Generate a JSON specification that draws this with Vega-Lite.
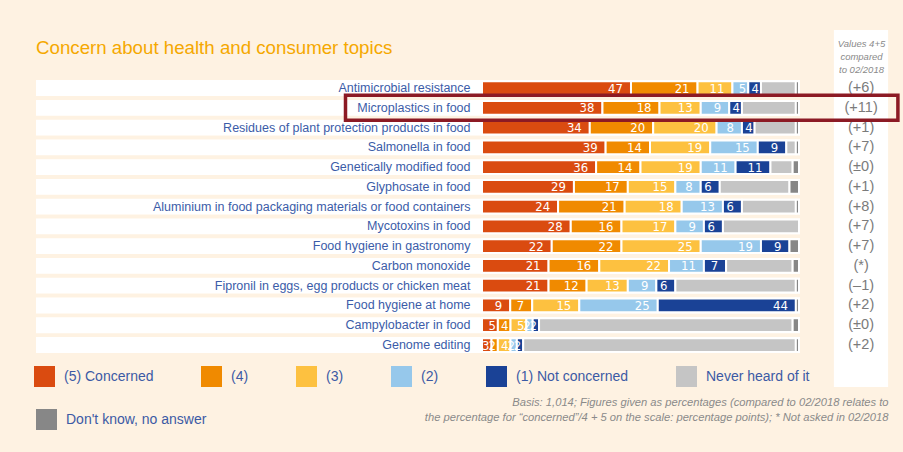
{
  "$schema": "https://vega.github.io/schema/vega-lite/v6.json",
  "width": 317,
  "height": 357,
  "autosize": {"type": "none"},
  "padding": {"left": 482, "top": 30, "right": 104, "bottom": 65},
  "background": "#FEF2E2",
  "config": {
    "view": {"stroke": null},
    "font": "Liberation Sans",
    "axisX": {"labels": false, "ticks": false, "domain": false, "grid": false, "titleFontSize": 11.2, "titleFontStyle": "italic", "titleFontWeight": "normal", "titleColor": "#8A8A8A", "titleLineHeight": 15, "titleFont": "Liberation Sans"},
    "axisY": {"domain": false, "ticks": false, "grid": false, "labelPadding": 12, "labelFontSize": 12.5, "labelColor": "#3B5CA8", "labelFont": "Liberation Sans", "labelLimit": 400, "titleFontSize": 9.5, "titleFontStyle": "italic", "titleFontWeight": "normal", "titleColor": "#8A8A8A", "titleLineHeight": 13, "titleFont": "Liberation Sans"}
  },
  "title": {
    "text": "Concern about health and consumer topics",
    "anchor": "start",
    "frame": "group",
    "dx": -446,
    "offset": 0,
    "baseline": "alphabetic",
    "dy": 42.5,
    "fontSize": 18.7,
    "fontWeight": "normal",
    "color": "#F5A800",
    "font": "Liberation Sans"
  },
  "datasets": {
    "rows": [
      {"topic": "Antimicrobial resistance", "change": "(+6)"},
      {"topic": "Microplastics in food", "change": "(+11)"},
      {"topic": "Residues of plant protection products in food", "change": "(+1)"},
      {"topic": "Salmonella in food", "change": "(+7)"},
      {"topic": "Genetically modified food", "change": "(±0)"},
      {"topic": "Glyphosate in food", "change": "(+1)"},
      {"topic": "Aluminium in food packaging materials or food containers", "change": "(+8)"},
      {"topic": "Mycotoxins in food", "change": "(+7)"},
      {"topic": "Food hygiene in gastronomy", "change": "(+7)"},
      {"topic": "Carbon monoxide", "change": "(*)"},
      {"topic": "Fipronil in eggs, egg products or chicken meat", "change": "(–1)"},
      {"topic": "Food hygiene at home", "change": "(+2)"},
      {"topic": "Campylobacter in food", "change": "(±0)"},
      {"topic": "Genome editing", "change": "(+2)"}
    ],
    "seg": [
      {"topic": "Antimicrobial resistance", "answer": "(5) Concerned", "value": 47},
      {"topic": "Antimicrobial resistance", "answer": "(4)", "value": 21},
      {"topic": "Antimicrobial resistance", "answer": "(3)", "value": 11},
      {"topic": "Antimicrobial resistance", "answer": "(2)", "value": 5},
      {"topic": "Antimicrobial resistance", "answer": "(1) Not concerned", "value": 4},
      {"topic": "Antimicrobial resistance", "answer": "Never heard of it", "value": 11},
      {"topic": "Antimicrobial resistance", "answer": "Don't know, no answer", "value": 1},
      {"topic": "Microplastics in food", "answer": "(5) Concerned", "value": 38},
      {"topic": "Microplastics in food", "answer": "(4)", "value": 18},
      {"topic": "Microplastics in food", "answer": "(3)", "value": 13},
      {"topic": "Microplastics in food", "answer": "(2)", "value": 9},
      {"topic": "Microplastics in food", "answer": "(1) Not concerned", "value": 4},
      {"topic": "Microplastics in food", "answer": "Never heard of it", "value": 17},
      {"topic": "Microplastics in food", "answer": "Don't know, no answer", "value": 1},
      {"topic": "Residues of plant protection products in food", "answer": "(5) Concerned", "value": 34},
      {"topic": "Residues of plant protection products in food", "answer": "(4)", "value": 20},
      {"topic": "Residues of plant protection products in food", "answer": "(3)", "value": 20},
      {"topic": "Residues of plant protection products in food", "answer": "(2)", "value": 8},
      {"topic": "Residues of plant protection products in food", "answer": "(1) Not concerned", "value": 4},
      {"topic": "Residues of plant protection products in food", "answer": "Never heard of it", "value": 13},
      {"topic": "Residues of plant protection products in food", "answer": "Don't know, no answer", "value": 1},
      {"topic": "Salmonella in food", "answer": "(5) Concerned", "value": 39},
      {"topic": "Salmonella in food", "answer": "(4)", "value": 14},
      {"topic": "Salmonella in food", "answer": "(3)", "value": 19},
      {"topic": "Salmonella in food", "answer": "(2)", "value": 15},
      {"topic": "Salmonella in food", "answer": "(1) Not concerned", "value": 9},
      {"topic": "Salmonella in food", "answer": "Never heard of it", "value": 3},
      {"topic": "Salmonella in food", "answer": "Don't know, no answer", "value": 1},
      {"topic": "Genetically modified food", "answer": "(5) Concerned", "value": 36},
      {"topic": "Genetically modified food", "answer": "(4)", "value": 14},
      {"topic": "Genetically modified food", "answer": "(3)", "value": 19},
      {"topic": "Genetically modified food", "answer": "(2)", "value": 11},
      {"topic": "Genetically modified food", "answer": "(1) Not concerned", "value": 11},
      {"topic": "Genetically modified food", "answer": "Never heard of it", "value": 7},
      {"topic": "Genetically modified food", "answer": "Don't know, no answer", "value": 2},
      {"topic": "Glyphosate in food", "answer": "(5) Concerned", "value": 29},
      {"topic": "Glyphosate in food", "answer": "(4)", "value": 17},
      {"topic": "Glyphosate in food", "answer": "(3)", "value": 15},
      {"topic": "Glyphosate in food", "answer": "(2)", "value": 8},
      {"topic": "Glyphosate in food", "answer": "(1) Not concerned", "value": 6},
      {"topic": "Glyphosate in food", "answer": "Never heard of it", "value": 22},
      {"topic": "Glyphosate in food", "answer": "Don't know, no answer", "value": 3},
      {"topic": "Aluminium in food packaging materials or food containers", "answer": "(5) Concerned", "value": 24},
      {"topic": "Aluminium in food packaging materials or food containers", "answer": "(4)", "value": 21},
      {"topic": "Aluminium in food packaging materials or food containers", "answer": "(3)", "value": 18},
      {"topic": "Aluminium in food packaging materials or food containers", "answer": "(2)", "value": 13},
      {"topic": "Aluminium in food packaging materials or food containers", "answer": "(1) Not concerned", "value": 6},
      {"topic": "Aluminium in food packaging materials or food containers", "answer": "Never heard of it", "value": 17},
      {"topic": "Aluminium in food packaging materials or food containers", "answer": "Don't know, no answer", "value": 1},
      {"topic": "Mycotoxins in food", "answer": "(5) Concerned", "value": 28},
      {"topic": "Mycotoxins in food", "answer": "(4)", "value": 16},
      {"topic": "Mycotoxins in food", "answer": "(3)", "value": 17},
      {"topic": "Mycotoxins in food", "answer": "(2)", "value": 9},
      {"topic": "Mycotoxins in food", "answer": "(1) Not concerned", "value": 6},
      {"topic": "Mycotoxins in food", "answer": "Never heard of it", "value": 24},
      {"topic": "Food hygiene in gastronomy", "answer": "(5) Concerned", "value": 22},
      {"topic": "Food hygiene in gastronomy", "answer": "(4)", "value": 22},
      {"topic": "Food hygiene in gastronomy", "answer": "(3)", "value": 25},
      {"topic": "Food hygiene in gastronomy", "answer": "(2)", "value": 19},
      {"topic": "Food hygiene in gastronomy", "answer": "(1) Not concerned", "value": 9},
      {"topic": "Food hygiene in gastronomy", "answer": "Don't know, no answer", "value": 3},
      {"topic": "Carbon monoxide", "answer": "(5) Concerned", "value": 21},
      {"topic": "Carbon monoxide", "answer": "(4)", "value": 16},
      {"topic": "Carbon monoxide", "answer": "(3)", "value": 22},
      {"topic": "Carbon monoxide", "answer": "(2)", "value": 11},
      {"topic": "Carbon monoxide", "answer": "(1) Not concerned", "value": 7},
      {"topic": "Carbon monoxide", "answer": "Never heard of it", "value": 21},
      {"topic": "Carbon monoxide", "answer": "Don't know, no answer", "value": 2},
      {"topic": "Fipronil in eggs, egg products or chicken meat", "answer": "(5) Concerned", "value": 21},
      {"topic": "Fipronil in eggs, egg products or chicken meat", "answer": "(4)", "value": 12},
      {"topic": "Fipronil in eggs, egg products or chicken meat", "answer": "(3)", "value": 13},
      {"topic": "Fipronil in eggs, egg products or chicken meat", "answer": "(2)", "value": 9},
      {"topic": "Fipronil in eggs, egg products or chicken meat", "answer": "(1) Not concerned", "value": 6},
      {"topic": "Fipronil in eggs, egg products or chicken meat", "answer": "Never heard of it", "value": 38},
      {"topic": "Fipronil in eggs, egg products or chicken meat", "answer": "Don't know, no answer", "value": 1},
      {"topic": "Food hygiene at home", "answer": "(5) Concerned", "value": 9},
      {"topic": "Food hygiene at home", "answer": "(4)", "value": 7},
      {"topic": "Food hygiene at home", "answer": "(3)", "value": 15},
      {"topic": "Food hygiene at home", "answer": "(2)", "value": 25},
      {"topic": "Food hygiene at home", "answer": "(1) Not concerned", "value": 44},
      {"topic": "Food hygiene at home", "answer": "Don't know, no answer", "value": 1},
      {"topic": "Campylobacter in food", "answer": "(5) Concerned", "value": 5},
      {"topic": "Campylobacter in food", "answer": "(4)", "value": 4},
      {"topic": "Campylobacter in food", "answer": "(3)", "value": 5},
      {"topic": "Campylobacter in food", "answer": "(2)", "value": 2},
      {"topic": "Campylobacter in food", "answer": "(1) Not concerned", "value": 2},
      {"topic": "Campylobacter in food", "answer": "Never heard of it", "value": 80},
      {"topic": "Campylobacter in food", "answer": "Don't know, no answer", "value": 2},
      {"topic": "Genome editing", "answer": "(5) Concerned", "value": 3},
      {"topic": "Genome editing", "answer": "(4)", "value": 2},
      {"topic": "Genome editing", "answer": "(3)", "value": 4},
      {"topic": "Genome editing", "answer": "(2)", "value": 2},
      {"topic": "Genome editing", "answer": "(1) Not concerned", "value": 2},
      {"topic": "Genome editing", "answer": "Never heard of it", "value": 86},
      {"topic": "Genome editing", "answer": "Don't know, no answer", "value": 1}
    ]
  },
  "layer": [
    {
      "data": {"name": "rows"},
      "mark": {"type": "rect", "color": "white"},
      "encoding": {
        "y": {"field": "topic", "type": "nominal", "scale": {"type": "band", "domain": [" ", "  ", "Antimicrobial resistance", "Microplastics in food", "Residues of plant protection products in food", "Salmonella in food", "Genetically modified food", "Glyphosate in food", "Aluminium in food packaging materials or food containers", "Mycotoxins in food", "Food hygiene in gastronomy", "Carbon monoxide", "Fipronil in eggs, egg products or chicken meat", "Food hygiene at home", "Campylobacter in food", "Genome editing", "   "], "paddingInner": 0.2, "paddingOuter": 0.63, "align": 0.425}},
        "x": {"datum": -1.407, "type": "quantitative", "scale": {"domain": [0, 1], "nice": false, "zero": false}},
        "x2": {"datum": 1.003}
      }
    },
    {
      "data": {"name": "rows"},
      "transform": [{"filter": {"field": "topic", "equal": "Antimicrobial resistance"}}],
      "mark": {"type": "rect", "color": "white"},
      "encoding": {
        "x": {"datum": 1.110, "type": "quantitative"},
        "x2": {"datum": 1.281}
      }
    },
    {
      "data": {"name": "seg"},
      "transform": [
        {"stack": "value", "groupby": ["topic"], "as": ["x0", "x1"], "offset": "normalize"},
        {"filter": {"field": "answer", "oneOf": ["(5) Concerned", "(4)", "(3)", "(2)", "(1) Not concerned", "Never heard of it"]}}
      ],
      "mark": {"type": "bar", "height": {"band": 0.87}, "stroke": "white", "strokeWidth": 2},
      "encoding": {
        "y": {
          "field": "topic", "type": "nominal",
          "scale": {"type": "band", "domain": [" ", "  ", "Antimicrobial resistance", "Microplastics in food", "Residues of plant protection products in food", "Salmonella in food", "Genetically modified food", "Glyphosate in food", "Aluminium in food packaging materials or food containers", "Mycotoxins in food", "Food hygiene in gastronomy", "Carbon monoxide", "Fipronil in eggs, egg products or chicken meat", "Food hygiene at home", "Campylobacter in food", "Genome editing", "   "], "paddingInner": 0.2, "paddingOuter": 0.63, "align": 0.425},
          "axis": {
            "orient": "left", "zindex": 2,
            "title": ["Values 4+5", "compared", "to 02/2018"],
            "titleAngle": 0, "titleAlign": "center", "titleBaseline": "top", "titleX": 379, "titleY": 8
          }
        },
        "x": {
          "field": "x0", "type": "quantitative",
          "scale": {"domain": [0, 1], "nice": false, "zero": false},
          "axis": {
            "orient": "bottom",
            "title": ["Basis: 1,014; Figures given as percentages (compared to 02/2018 relates to", "the percentage for “concerned”/4 + 5 on the scale: percentage points); * Not asked in 02/2018"],
            "titleAlign": "right", "titleBaseline": "top", "titleX": 406, "titleY": 9
          }
        },
        "x2": {"field": "x1"},
        "color": {
          "field": "answer", "type": "nominal",
          "scale": {
            "domain": ["(5) Concerned", "(4)", "(3)", "(2)", "(1) Not concerned", "Never heard of it"],
            "range": ["#DA4B10", "#F08A00", "#FDC140", "#96C8EB", "#1A4296", "#C5C5C5"]
          },
          "legend": {
            "orient": "none", "legendX": -448, "legendY": 336, "direction": "horizontal",
            "columnPadding": 47, "symbolType": "square", "symbolSize": 441, "symbolStrokeWidth": 0, "symbolOpacity": 1,
            "labelFontSize": 14, "labelColor": "#3C5AA5", "labelFont": "Liberation Sans", "labelOffset": 9, "labelLimit": 300, "title": null, "padding": 0
          }
        }
      }
    },
    {
      "data": {"name": "seg"},
      "transform": [
        {"stack": "value", "groupby": ["topic"], "as": ["x0", "x1"], "offset": "normalize"},
        {"filter": {"field": "answer", "equal": "Don't know, no answer"}}
      ],
      "mark": {"type": "bar", "height": {"band": 0.87}, "stroke": "white", "strokeWidth": 2},
      "encoding": {
        "y": {"field": "topic", "type": "nominal", "scale": {"type": "band", "domain": [" ", "  ", "Antimicrobial resistance", "Microplastics in food", "Residues of plant protection products in food", "Salmonella in food", "Genetically modified food", "Glyphosate in food", "Aluminium in food packaging materials or food containers", "Mycotoxins in food", "Food hygiene in gastronomy", "Carbon monoxide", "Fipronil in eggs, egg products or chicken meat", "Food hygiene at home", "Campylobacter in food", "Genome editing", "   "], "paddingInner": 0.2, "paddingOuter": 0.63, "align": 0.425}},
        "x": {"field": "x0", "type": "quantitative"},
        "x2": {"field": "x1"},
        "fill": {
          "field": "answer", "type": "nominal",
          "scale": {"domain": ["Don't know, no answer"], "range": ["#878787"]},
          "legend": {
            "orient": "none", "legendX": -446, "legendY": 379, "direction": "horizontal",
            "symbolType": "square", "symbolSize": 441, "symbolStrokeWidth": 0, "symbolOpacity": 1,
            "labelFontSize": 14, "labelColor": "#3C5AA5", "labelFont": "Liberation Sans", "labelOffset": 9, "labelLimit": 300, "title": null, "padding": 0
          }
        }
      }
    },
    {
      "data": {"name": "seg"},
      "transform": [
        {"stack": "value", "groupby": ["topic"], "as": ["x0", "x1"], "offset": "normalize"},
        {"filter": {"field": "answer", "oneOf": ["(5) Concerned", "(4)", "(3)", "(2)", "(1) Not concerned"]}},
        {"filter": {"field": "value", "gte": 6}}
      ],
      "mark": {"type": "text", "color": "white", "align": "right", "baseline": "middle", "dx": -8, "dy": 0.5, "fontSize": 13, "font": "Liberation Sans Narrow, DejaVu Sans Condensed, Liberation Sans"},
      "encoding": {
        "y": {"field": "topic", "type": "nominal", "scale": {"type": "band", "domain": [" ", "  ", "Antimicrobial resistance", "Microplastics in food", "Residues of plant protection products in food", "Salmonella in food", "Genetically modified food", "Glyphosate in food", "Aluminium in food packaging materials or food containers", "Mycotoxins in food", "Food hygiene in gastronomy", "Carbon monoxide", "Fipronil in eggs, egg products or chicken meat", "Food hygiene at home", "Campylobacter in food", "Genome editing", "   "], "paddingInner": 0.2, "paddingOuter": 0.63, "align": 0.425}},
        "x": {"field": "x1", "type": "quantitative"},
        "text": {"field": "value"}
      }
    },
    {
      "data": {"name": "seg"},
      "transform": [
        {"stack": "value", "groupby": ["topic"], "as": ["x0", "x1"], "offset": "normalize"},
        {"filter": {"field": "answer", "oneOf": ["(5) Concerned", "(4)", "(3)", "(2)", "(1) Not concerned"]}},
        {"filter": {"field": "value", "lt": 6}}
      ],
      "mark": {"type": "text", "color": "white", "align": "right", "baseline": "middle", "dx": -2, "dy": 0.5, "fontSize": 13, "font": "Liberation Sans Narrow, DejaVu Sans Condensed, Liberation Sans"},
      "encoding": {
        "y": {"field": "topic", "type": "nominal", "scale": {"type": "band", "domain": [" ", "  ", "Antimicrobial resistance", "Microplastics in food", "Residues of plant protection products in food", "Salmonella in food", "Genetically modified food", "Glyphosate in food", "Aluminium in food packaging materials or food containers", "Mycotoxins in food", "Food hygiene in gastronomy", "Carbon monoxide", "Fipronil in eggs, egg products or chicken meat", "Food hygiene at home", "Campylobacter in food", "Genome editing", "   "], "paddingInner": 0.2, "paddingOuter": 0.63, "align": 0.425}},
        "x": {"field": "x1", "type": "quantitative"},
        "text": {"field": "value"}
      }
    },
    {
      "data": {"name": "rows"},
      "mark": {"type": "text", "color": "#7B7B7B", "align": "center", "baseline": "middle", "fontSize": 14.5, "font": "Liberation Sans"},
      "encoding": {
        "y": {"field": "topic", "type": "nominal", "scale": {"type": "band", "domain": [" ", "  ", "Antimicrobial resistance", "Microplastics in food", "Residues of plant protection products in food", "Salmonella in food", "Genetically modified food", "Glyphosate in food", "Aluminium in food packaging materials or food containers", "Mycotoxins in food", "Food hygiene in gastronomy", "Carbon monoxide", "Fipronil in eggs, egg products or chicken meat", "Food hygiene at home", "Campylobacter in food", "Genome editing", "   "], "paddingInner": 0.2, "paddingOuter": 0.63, "align": 0.425}},
        "x": {"datum": 1.196, "type": "quantitative"},
        "text": {"field": "change"}
      }
    },
    {
      "data": {"name": "rows"},
      "transform": [{"filter": {"field": "topic", "equal": "Microplastics in food"}}],
      "mark": {"type": "bar", "height": {"band": 1.58}, "fill": "transparent", "stroke": "#8C1A24", "strokeWidth": 3.5},
      "encoding": {
        "y": {"field": "topic", "type": "nominal", "scale": {"type": "band", "domain": [" ", "  ", "Antimicrobial resistance", "Microplastics in food", "Residues of plant protection products in food", "Salmonella in food", "Genetically modified food", "Glyphosate in food", "Aluminium in food packaging materials or food containers", "Mycotoxins in food", "Food hygiene in gastronomy", "Carbon monoxide", "Fipronil in eggs, egg products or chicken meat", "Food hygiene at home", "Campylobacter in food", "Genome editing", "   "], "paddingInner": 0.2, "paddingOuter": 0.63, "align": 0.425}},
        "x": {"datum": -0.4306, "type": "quantitative"},
        "x2": {"datum": 1.312}
      }
    }
  ]
}
